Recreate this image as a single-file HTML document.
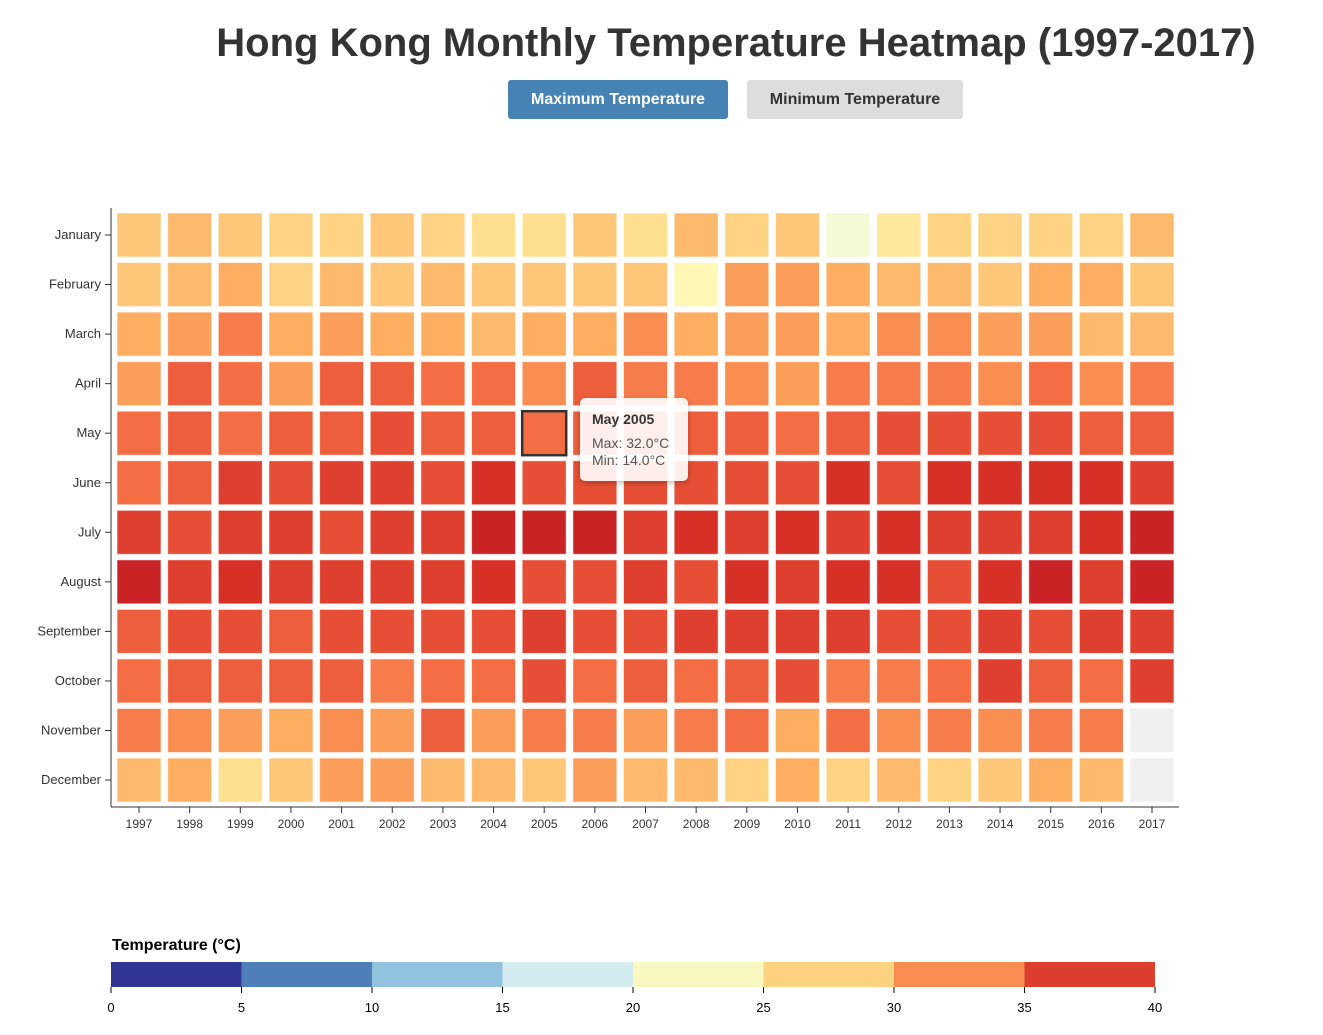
<!DOCTYPE html>
<html><head><meta charset="utf-8"><style>
body{margin:0;background:#fff;font-family:"Liberation Sans",sans-serif;}
#wrap{position:relative;width:1323px;height:1035px;overflow:hidden;}
h1{position:absolute;left:0;width:1472px;top:21px;margin:0;text-align:center;font-size:40px;font-weight:bold;color:#333;}
.btn{position:absolute;top:80px;height:39px;line-height:39px;text-align:center;font-size:16px;font-weight:bold;border-radius:3px;}
#tip{position:absolute;left:580px;top:398px;width:108px;height:83px;background:rgba(255,255,255,0.9);border-radius:5px;box-shadow:0 2px 6px rgba(0,0,0,0.25);font-size:14px;color:#555;}
</style></head><body>
<div id="wrap">
<h1>Hong Kong Monthly Temperature Heatmap (1997-2017)</h1>
<div class="btn" style="left:508px;width:220px;background:#4682b4;color:#fff;">Maximum Temperature</div>
<div class="btn" style="left:747px;width:216px;background:#ddd;color:#333;">Minimum Temperature</div>
<svg id="svg" width="1323" height="1035" style="position:absolute;left:0;top:0"></svg>
<div id="tip">
<div style="position:absolute;left:12px;top:13px;font-weight:bold;color:#333;">May 2005</div>
<div style="position:absolute;left:12px;top:37px;">Max: 32.0°C</div>
<div style="position:absolute;left:12px;top:54px;">Min: 14.0°C</div>
</div>
</div>
<script>
const years=[1997,1998,1999,2000,2001,2002,2003,2004,2005,2006,2007,2008,2009,2010,2011,2012,2013,2014,2015,2016,2017];
const months=["January","February","March","April","May","June","July","August","September","October","November","December"];
const jan=[26,27,26,25,25,26,25,24,24,26,24,27,25,26,18.5,23,25,25,25,25,27];
const feb=[26,27,28,25,27,26,27,26,26,26,26,21,29,29,28,27,27,26,28,28,26];
const mar=[28,29,31,28,29,28,28,27,28,28,30,28,29,29,28,30,30,29,29,27,27];
const apr=[29,33,32,29,33,33,32,32,30,33,31,31,30,29,31,31,31,30,32,30,31];
const may=[32,33,32,33,33,34,33,33,32,33,33,33,33,32,33,34,34,34,34,33,33];
const jun=[32,33,35,34,35,35,34,36,34,34,34,34,34,34,36,34,36,36,36,36,35];
const jul=[35,34,35,35,34,35,35,37,37,37,35,36,35,36,35,36,35,35,35,36,37];
const aug=[37,35,36,35,35,35,35,36,34,34,35,34,36,35,36,36,34,36,37,35,37];
const sep=[33,34,34,33,34,34,34,34,35,34,34,35,35,35,35,34,34,35,34,35,35];
const oct=[32,33,33,33,33,31,32,32,34,32,33,32,33,34,31,31,32,35,33,32,35];
const nov=[31,30,29,28,30,29,33,29,31,31,29,31,32,28,32,30,31,30,31,31,null];
const dec=[27,28,24,26,29,29,27,27,26,29,27,27,25,28,25,27,25,26,28,27,null];
const rows=[jan,feb,mar,apr,may,jun,jul,aug,sep,oct,nov,dec];
const legendTicks=[0,5,10,15,20,25,30,35,40];
const legendColors=["#313695","#4f7fba","#91c3de","#d4ebf0","#f9f8c0","#fdd281","#f88d52","#dd3e2d"];

const stops=["#a50026","#d73027","#f46d43","#fdae61","#fee090","#ffffbf","#e0f3f8","#abd9e9","#74add1","#4575b4","#313695"];
function hex(h){return [1,3,5].map(i=>parseInt(h.substr(i,2),16));}
function color(v){
  if(v==null) return "#f0f0f0";
  let t=Math.max(0,Math.min(1,1-v/40))*10;let i=Math.min(9,Math.floor(t)),f=t-i;
  const a=hex(stops[i]),b=hex(stops[i+1]);
  return "rgb("+a.map((c,k)=>Math.round(c+(b[k]-c)*f)).join(",")+")";
}
const NS="http://www.w3.org/2000/svg";
const svg=document.getElementById("svg");
function mk(tag,attrs,parent){const e=document.createElementNS(NS,tag);for(const k in attrs)e.setAttribute(k,attrs[k]);(parent||svg).appendChild(e);return e;}
const x0=112,stepX=50.65,y0=208,stepY=49.55;
const xPos=i=>x0+i*stepX;
const yPos=j=>y0+j*stepY;
const lgX=v=>111+v/40*1044;

rows.forEach((row,j)=>{
  row.forEach((v,i)=>{
    const r=mk("rect",{x:xPos(i)+5,y:yPos(j)+5,width:44,height:44,fill:color(v),stroke:"rgba(255,255,255,0.6)","stroke-width":1});
    
    
  });
});
const hl=mk("rect",{x:xPos(8)+5,y:yPos(4)+5,width:44,height:44,fill:"none",stroke:"#333","stroke-width":2.5});



const ax=mk("g",{});


mk("line",{x1:111,y1:807,x2:1179,y2:807,stroke:"#333"},ax);
years.forEach((y,i)=>{
  const cx=xPos(i)+27;
  mk("line",{x1:cx,y1:807,x2:cx,y2:813,stroke:"#333"},ax);
  const t=mk("text",{x:cx,y:828,"text-anchor":"middle","font-size":12,fill:"#333"},ax);
  t.textContent=y;
  
  
});
const ay=mk("g",{});


mk("line",{x1:111,y1:208,x2:111,y2:807,stroke:"#333"},ay);
months.forEach((m,j)=>{
  const cy=yPos(j)+27;
  mk("line",{x1:105,y1:cy,x2:111,y2:cy,stroke:"#333"},ay);
  const t=mk("text",{x:101,y:cy+4,"text-anchor":"end","font-size":13,fill:"#333"},ay);
  t.textContent=m;
  
  
});

const lg=mk("g",{});


const lt=mk("text",{x:112,y:950,"font-size":16,"font-weight":"bold",fill:"#000"},lg);
lt.textContent="Temperature (°C)";


legendColors.forEach((c,i)=>{
  const r=mk("rect",{x:lgX(legendTicks[i]),y:962,width:lgX(legendTicks[i+1])-lgX(legendTicks[i]),height:25,fill:c},lg);
  
  
});
legendTicks.forEach(v=>{
  mk("line",{x1:lgX(v),y1:987,x2:lgX(v),y2:993,stroke:"#000"},lg);
  const t=mk("text",{x:lgX(v),y:1012,"text-anchor":"middle","font-size":13,fill:"#000"},lg);
  t.textContent=v;
  
  
});
</script>
</body></html>
